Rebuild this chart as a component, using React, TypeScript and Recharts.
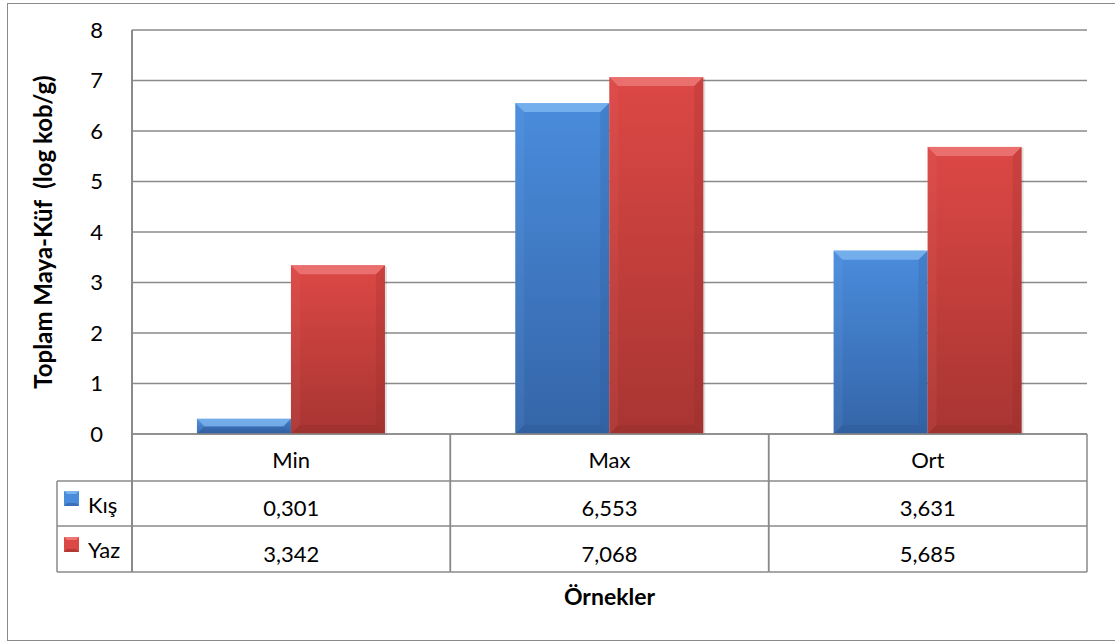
// Toplam maya-küf sayıları (log kob/g): kış ve yaz örnekleri, altta veri tablosu ile
import { BarChart, Bar, XAxis, YAxis, CartesianGrid } from "recharts";

const kategoriler = ["Min", "Max", "Ort"];
const kisDegerleri = [0.301, 6.553, 3.631];
const yazDegerleri = [3.342, 7.068, 5.685];
const yTikler = [0, 1, 2, 3, 4, 5, 6, 7, 8];

const W = 1115;
const H = 641;
const MARGIN = { top: 30, right: 28, left: 0, bottom: 70 };
const Y_W = 132;
const X_H = 137;
const HUCRE = (W - MARGIN.left - Y_W - MARGIN.right) / kategoriler.length;
const FONT = "Lato, 'Open Sans', sans-serif";
const CIZGI = "#8a8a8a";
const YAZI_BOY = 22;

const renkler = {
  kis: { ust: "#4a8cdc", alt: "#3465a8", parlak: "#86bdf3", koyu: "#2a548f" },
  yaz: { ust: "#dc4845", alt: "#a83532", parlak: "#f08280", koyu: "#8a2a28" },
};

const veri = kategoriler.map((k, i) => ({ kat: k, kis: kisDegerleri[i], yaz: yazDegerleri[i] }));

const fmt = (v: number) => v.toFixed(3).replace(".", ",");

function BevelBar(props: any) {
  const { x, y, width: w, height: h, seri } = props;
  if (!w || !h || h <= 0) return null;
  const r = renkler[seri as "kis" | "yaz"];
  const id = `g-${seri}-${Math.round(x)}`;
  const b = Math.min(9, h / 2, w / 2);
  return (
    <g>
      <defs>
        <linearGradient id={id} x1="0" y1="0" x2="0" y2="1">
          <stop offset="0%" stopColor={r.ust} />
          <stop offset="100%" stopColor={r.alt} />
        </linearGradient>
      </defs>
      <rect x={x + 2} y={y + 1} width={w} height={h} fill="#000" opacity={0.12} />
      <rect x={x} y={y} width={w} height={h} fill={`url(#${id})`} />
      <polygon points={`${x},${y} ${x + w},${y} ${x + w - b},${y + b} ${x + b},${y + b}`} fill={r.parlak} opacity={0.7} />
      <polygon points={`${x},${y} ${x + b},${y + b} ${x + b},${y + h - b} ${x},${y + h}`} fill={r.parlak} opacity={0.1} />
      <polygon points={`${x + w},${y} ${x + w - b},${y + b} ${x + w - b},${y + h - b} ${x + w},${y + h}`} fill={r.koyu} opacity={0.2} />
      <polygon points={`${x},${y + h} ${x + b},${y + h - b} ${x + w - b},${y + h - b} ${x + w},${y + h}`} fill={r.koyu} opacity={0.3} />
    </g>
  );
}

function Anahtar({ x, y, seri }: { x: number; y: number; seri: "kis" | "yaz" }) {
  const r = renkler[seri];
  const s = 15;
  const b = 3;
  return (
    <g>
      <rect x={x} y={y} width={s} height={s} fill={r.ust} />
      <polygon points={`${x},${y} ${x + s},${y} ${x + s - b},${y + b} ${x + b},${y + b}`} fill={r.parlak} opacity={0.8} />
      <polygon points={`${x},${y + s} ${x + b},${y + s - b} ${x + s - b},${y + s - b} ${x + s},${y + s}`} fill={r.koyu} opacity={0.5} />
    </g>
  );
}

function TabloTick(props: any) {
  const { x, y, index } = props;
  const yari = HUCRE / 2;
  const sol = x - yari;
  const sag = x + yari;
  const satirlar = [y, y + 47, y + 92, y + 138];
  const yazi = { fontFamily: FONT, fontSize: YAZI_BOY, fill: "#000" };
  return (
    <g>
      <line x1={sol} x2={sol} y1={y} y2={satirlar[3]} stroke={CIZGI} strokeWidth={index === 0 ? 2 : 1.5} />
      <line x1={sag} x2={sag} y1={y} y2={satirlar[3]} stroke={CIZGI} strokeWidth={1.5} />
      {satirlar.slice(1).map((sy, i) => (
        <line key={i} x1={sol} x2={sag} y1={sy} y2={sy} stroke={CIZGI} strokeWidth={1.5} />
      ))}
      <text x={x} y={y + 34} textAnchor="middle" {...yazi}>{kategoriler[index]}</text>
      <text x={x} y={y + 82} textAnchor="middle" {...yazi}>{fmt(kisDegerleri[index])}</text>
      <text x={x} y={y + 128} textAnchor="middle" {...yazi}>{fmt(yazDegerleri[index])}</text>
      {index === 0 && (
        <g>
          <line x1={57} x2={57} y1={satirlar[1]} y2={satirlar[3]} stroke={CIZGI} strokeWidth={1.5} />
          {satirlar.slice(1).map((sy, i) => (
            <line key={i} x1={57} x2={sol} y1={sy} y2={sy} stroke={CIZGI} strokeWidth={1.5} />
          ))}
          <Anahtar x={64} y={y + 57} seri="kis" />
          <text x={88} y={y + 79} {...yazi}>Kış</text>
          <Anahtar x={64} y={y + 103} seri="yaz" />
          <text x={88} y={y + 124} {...yazi}>Yaz</text>
        </g>
      )}
    </g>
  );
}

export default function App() {
  return (
    <div style={{ position: "absolute", left: 0, top: 0, width: W, height: H, background: "#fff", overflow: "hidden", fontFamily: FONT }}>
      <div style={{ position: "absolute", left: 7, top: 3, width: W, height: 636, border: `1px solid ${CIZGI}` }} />
      <div style={{ position: "absolute", left: 0, top: 0 }}>
        <BarChart width={W} height={H} data={veri} margin={MARGIN} barCategoryGap="20.4%" barGap={0}>
          <CartesianGrid horizontal vertical={false} stroke={CIZGI} strokeWidth={1.5} />
          <XAxis
            dataKey="kat"
            height={X_H}
            interval={0}
            tickLine={false}
            tickSize={0}
            tickMargin={0}
            axisLine={{ stroke: CIZGI, strokeWidth: 1.5 }}
            tick={<TabloTick />}
            label={({ viewBox }: any) => (
              <text x={viewBox.x + viewBox.width / 2} y={viewBox.y + 171} textAnchor="middle"
                fontFamily={FONT} fontSize={23} fontWeight={700} fill="#000">Örnekler</text>
            )}
          />
          <YAxis
            width={Y_W}
            domain={[0, 8]}
            ticks={yTikler}
            interval={0}
            tickLine={false}
            tickSize={27}
            tickMargin={2}
            axisLine={{ stroke: CIZGI, strokeWidth: 2 }}
            tick={{ fontFamily: FONT, fontSize: YAZI_BOY, fill: "#000" }}
            label={({ viewBox }: any) => {
              const cx = 44;
              const cy = viewBox.y + viewBox.height / 2;
              return (
                <text x={cx} y={cy} dy="0.35em" textAnchor="middle" transform={`rotate(-90 ${cx} ${cy})`}
                  fontFamily={FONT} fontSize={24} fontWeight={700} fill="#000" style={{ whiteSpace: "pre" }}>
                  Toplam Maya-Küf  (log kob/g)
                </text>
              );
            }}
          />
          <Bar dataKey="kis" name="Kış" fill={renkler.kis.ust} isAnimationActive={false} shape={(p: any) => <BevelBar {...p} seri="kis" />} />
          <Bar dataKey="yaz" name="Yaz" fill={renkler.yaz.ust} isAnimationActive={false} shape={(p: any) => <BevelBar {...p} seri="yaz" />} />
        </BarChart>
      </div>
    </div>
  );
}
